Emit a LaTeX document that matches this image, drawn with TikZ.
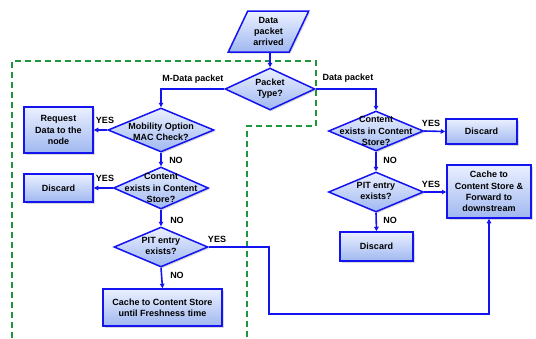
\documentclass[tikz,border=0pt]{standalone}
\usepackage{fontspec}
\setsansfont{Liberation Sans}
\usetikzlibrary{shapes.geometric,arrows.meta,shadows}
\definecolor{flowblue}{RGB}{20,20,240}
\definecolor{boxtop}{RGB}{234,240,255}
\definecolor{boxbot}{RGB}{160,184,240}
\definecolor{zonegreen}{RGB}{30,150,60}
\begin{document}
\begin{tikzpicture}[x=1pt,y=-1pt,
  font=\sffamily\bfseries\fontsize{9}{11.3}\selectfont,
  flowfill/.style={top color=boxtop,bottom color=boxbot,draw=flowblue,line width=1.5pt,
    drop shadow={shadow xshift=1.5pt,shadow yshift=-1.5pt,opacity=0.3}},
  box/.style={flowfill,rectangle,inner sep=0pt,align=center},
  dia/.style={flowfill,diamond,inner sep=0pt},
  txt/.style={align=center,inner sep=0pt},
  flow/.style={draw=flowblue,line width=1.6pt,-{Triangle[length=4.5pt,width=4.5pt]}},
  lab/.style={inner sep=0pt},
  zone/.style={draw=zonegreen,line width=1.4pt,dash pattern=on 6pt off 4pt}]
\useasboundingbox (0,0) rectangle (536,338);

% dashed zone around the M-Data branch
\draw[zone] (12,338) -- (12,61) -- (316,61) -- (316,126) -- (247,126) -- (247,338);

% input
\node[flowfill,trapezium,trapezium left angle=64,trapezium right angle=116,
  trapezium stretches=true,minimum width=81pt,minimum height=41pt,inner sep=1pt,align=center]
  (arr) at (268.5,31.5) {Data\\packet\\arrived};

% decisions
\node[dia,minimum width=90pt,minimum height=42pt] (pkt) at (270,89) {};
\node[txt] (pktt) at (pkt) {Packet\\Type?};
\node[dia,minimum width=106pt,minimum height=44pt] (mob) at (161,130) {};
\node[txt] (mobt) at (161,131.5) {Mobility Option\\MAC Check?};
\node[dia,minimum width=95pt,minimum height=42pt] (csl) at (161,188) {};
\node[txt] (cslt) at (161,188) {Content\\exists in Content\\Store?};
\node[dia,minimum width=94pt,minimum height=40pt] (pitl) at (161,247) {};
\node[txt] (pitlt) at (161,246) {PIT entry\\exists?};
\node[dia,minimum width=95pt,minimum height=40pt] (csr) at (376,131) {};
\node[txt] (csrt) at (376,131) {Content\\exists in Content\\Store?};
\node[dia,minimum width=95pt,minimum height=40pt] (pitr) at (376,192) {};
\node[txt] (pitrt) at (376,191) {PIT entry\\exists?};

% actions
\node[box,minimum width=69pt,minimum height=46pt] (req) at (58.5,130) {Request\\Data to the\\node};
\node[box,minimum width=69pt,minimum height=28pt] (disl) at (58.5,188) {Discard};
\node[box,minimum width=119pt,minimum height=37pt] (cachel) at (162.5,307.5) {Cache to Content Store\\until Freshness time};
\node[box,minimum width=71pt,minimum height=25pt] (disr) at (481.5,131.5) {Discard};
\node[box,minimum width=84pt,minimum height=53pt] (cacher) at (489,191.5) {Cache to\\Content Store \&\\Forward to\\downstream};
\node[box,minimum width=73pt,minimum height=29pt] (disb) at (376.5,246.5) {Discard};

% connectors
\coordinate (loop) at (269,314);
\draw[flow] (pkt.north |- arr.south) -- (pkt.north);
\draw[flow] (pkt.west) -| (mob.north);
\draw[flow] (pkt.east) -| (csr.north);
\draw[flow] (mob.west) -- (req.east);
\draw[flow] (mob.south) -- (csl.north);
\draw[flow] (csl.west) -- (disl.east);
\draw[flow] (csl.south) -- (pitl.north);
\draw[flow] (pitl.south) -- (cachel.north);
\draw[flow] (pitl.east) -| (loop) -| (cacher.south);
\draw[flow] (csr.east) -- (disr.west);
\draw[flow] (csr.south) -- (pitr.north);
\draw[flow] (pitr.east) -- (pitr.east -| cacher.west);
\draw[flow] (pitr.south) -- (disb.north);

% branch labels
\node[lab] (l1) at (193,79) {M-Data packet};
\node[lab] (l2) at (348,78) {Data packet};
\node[lab] (l3) at (105,120) {YES};
\node[lab] (l4) at (176,160) {NO};
\node[lab] (l5) at (105,178) {YES};
\node[lab] (l6) at (177,220) {NO};
\node[lab] (l7) at (217,239) {YES};
\node[lab] (l8) at (177,275) {NO};
\node[lab] (l9) at (431,123) {YES};
\node[lab] (l10) at (390,160) {NO};
\node[lab] (l11) at (431,184) {YES};
\node[lab] (l12) at (390,220) {NO};
\end{tikzpicture}
\end{document}
